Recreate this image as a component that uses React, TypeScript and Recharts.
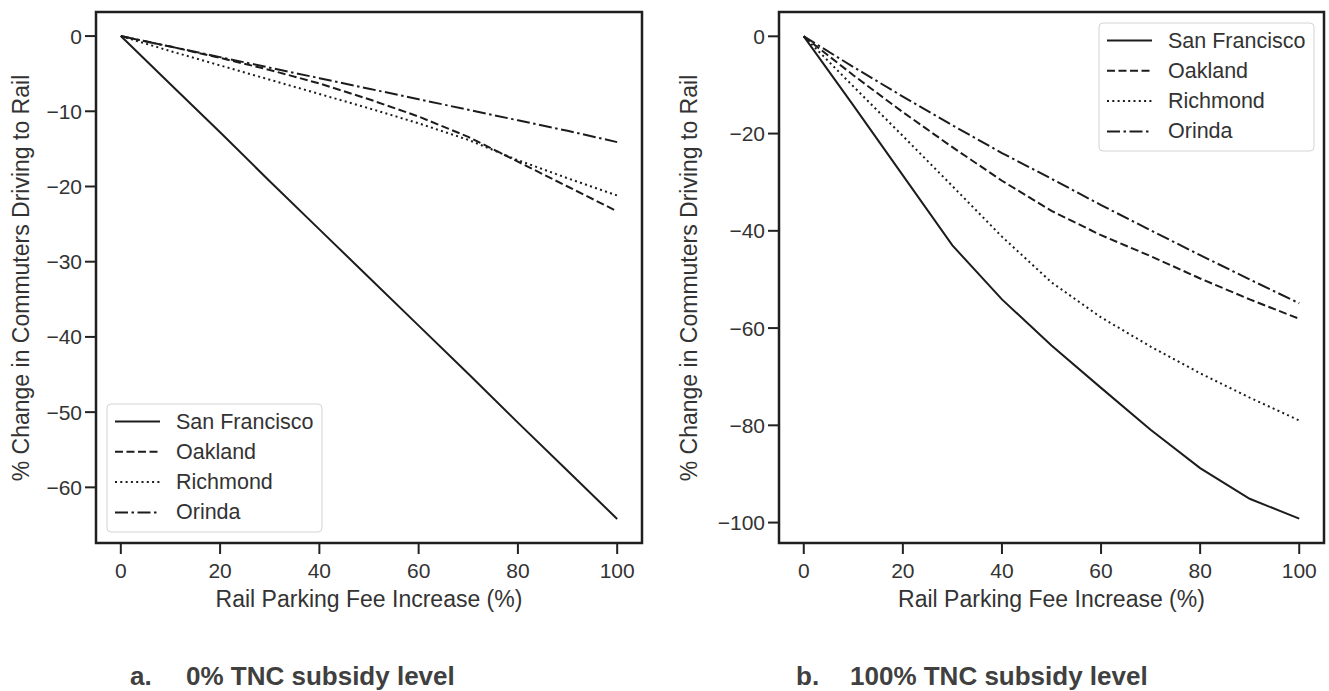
import { LineChart, Line, XAxis, YAxis, ReferenceArea } from 'recharts';

// parking fee increase (%), shared x values
const feeIncrease = [0, 10, 20, 30, 40, 50, 60, 70, 80, 90, 100];

const cityNames = ['San Francisco', 'Oakland', 'Richmond', 'Orinda'];
const cityKeys = ['sf', 'oak', 'ric', 'ori'];
const cityDashes = ['', '8 3.5', '2 3.3', '13 3.5 2.5 3.5'];

// a. 0% TNC subsidy level
const sfNoSubsidy = [0, -6.4, -12.8, -19.3, -25.7, -32.1, -38.5, -44.9, -51.4, -57.8, -64.2];
const oakNoSubsidy = [0, -1.4, -2.9, -4.5, -6.3, -8.4, -10.7, -13.4, -16.7, -20.0, -23.3];
const ricNoSubsidy = [0, -2.0, -3.9, -5.8, -7.7, -9.6, -11.6, -13.8, -16.5, -18.9, -21.2];
const oriNoSubsidy = [0, -1.4, -2.8, -4.2, -5.6, -7.0, -8.4, -9.8, -11.2, -12.6, -14.1];

// b. 100% TNC subsidy level
const sfFullSubsidy = [0, -14.2, -28.6, -43.0, -54.1, -63.6, -72.3, -80.9, -88.8, -95.1, -99.2];
const oakFullSubsidy = [0, -8.0, -15.6, -22.8, -29.7, -35.9, -40.9, -45.2, -49.8, -54.1, -58.1];
const ricFullSubsidy = [0, -10.3, -20.5, -30.8, -41.2, -50.6, -57.8, -63.8, -69.3, -74.3, -79.0];
const oriFullSubsidy = [0, -6.3, -12.4, -18.3, -24.0, -29.3, -34.7, -39.9, -45.0, -50.0, -54.9];

const xTicks = [0, 20, 40, 60, 80, 100];
const yTicksA = [-60, -50, -40, -30, -20, -10, 0];
const yTicksB = [-100, -80, -60, -40, -20, 0];

const xLabel = 'Rail Parking Fee Increase (%)';
const yLabel = '% Change in Commuters Driving to Rail';

const FONT = '"Liberation Sans", Arial, Helvetica, sans-serif';
const LINE = '#1c1c1c';
const TEXT = '#333333';

function buildRows(series: number[][]) {
  return feeIncrease.map((fee, i) => {
    const row: any = { fee };
    cityKeys.forEach((k, j) => (row[k] = series[j][i]));
    return row;
  });
}

const rowsA = buildRows([sfNoSubsidy, oakNoSubsidy, ricNoSubsidy, oriNoSubsidy]);
const rowsB = buildRows([sfFullSubsidy, oakFullSubsidy, ricFullSubsidy, oriFullSubsidy]);

const minus = (v: number) => String(v).replace('-', '\u2212');

interface PanelProps {
  data: any[];
  yDomain: [number, number];
  yTicks: number[];
  width: number;
  marginLeft: number;
  marginRight: number;
}

function Panel({ data, yDomain, yTicks, width, marginLeft, marginRight }: PanelProps) {
  const tickStyle = { fill: TEXT, fontSize: 21, fontFamily: FONT };
  return (
    <LineChart
      width={width}
      height={620}
      data={data}
      margin={{ top: 12, right: marginRight, left: marginLeft, bottom: 7 }}
    >
      <XAxis
        dataKey="fee"
        type="number"
        domain={[-5, 105]}
        allowDataOverflow
        ticks={xTicks}
        axisLine={false}
        tickLine={{ stroke: '#222', strokeWidth: 2 }}
        tickSize={11}
        tickMargin={9}
        tick={tickStyle}
        height={70}
        label={{ value: xLabel, position: 'insideBottom', offset: 6, fill: TEXT, fontSize: 23, fontFamily: FONT }}
      />
      <YAxis
        type="number"
        domain={yDomain}
        allowDataOverflow
        ticks={yTicks}
        axisLine={false}
        tickLine={{ stroke: '#222', strokeWidth: 2 }}
        tickSize={11}
        tickMargin={3}
        tick={tickStyle}
        tickFormatter={minus}
        width={70}
      />
      <ReferenceArea
        x1={-5}
        x2={105}
        y1={yDomain[0]}
        y2={yDomain[1]}
        fill="none"
        fillOpacity={0}
        stroke="#1f1f1f"
        strokeWidth={2.5}
        ifOverflow="visible"
      />
      {cityKeys.map((k, i) => (
        <Line
          key={k}
          dataKey={k}
          type="linear"
          stroke={LINE}
          strokeWidth={2}
          strokeDasharray={cityDashes[i] || undefined}
          dot={false}
          activeDot={false}
          isAnimationActive={false}
        />
      ))}
    </LineChart>
  );
}

function LegendBox({ x, y }: { x: number; y: number }) {
  return (
    <g>
      <rect x={x} y={y} width={215} height={128} rx={4} fill="#fff" fillOpacity={0.9} stroke="#d4d4d4" strokeWidth={1} />
      {cityNames.map((name, i) => {
        const cy = y + 17.5 + i * 30.3;
        return (
          <g key={name}>
            <line
              x1={x + 8}
              x2={x + 53}
              y1={cy}
              y2={cy}
              stroke={LINE}
              strokeWidth={2}
              strokeDasharray={cityDashes[i] || undefined}
            />
            <text x={x + 69} y={cy} dominantBaseline="central" fill={TEXT} fontSize={21.5} fontFamily={FONT}>
              {name}
            </text>
          </g>
        );
      })}
    </g>
  );
}

export default function App() {
  return (
    <div style={{ position: 'absolute', left: 0, top: 0, width: 1329, height: 691, background: '#fff', fontFamily: FONT }}>
      <div style={{ position: 'absolute', left: 0, top: 0 }}>
        <Panel data={rowsA} yDomain={[-67.4, 3.2]} yTicks={yTicksA} width={660} marginLeft={26} marginRight={18} />
      </div>
      <div style={{ position: 'absolute', left: 660, top: 0 }}>
        <Panel data={rowsB} yDomain={[-104.2, 5.0]} yTicks={yTicksB} width={669} marginLeft={49} marginRight={5} />
      </div>
      <svg width={1329} height={691} style={{ position: 'absolute', left: 0, top: 0, pointerEvents: 'none' }}>
        <text transform="translate(21,278) rotate(-90)" textAnchor="middle" dominantBaseline="central" fill={TEXT} fontSize={23} fontFamily={FONT}>
          {yLabel}
        </text>
        <text transform="translate(689,278) rotate(-90)" textAnchor="middle" dominantBaseline="central" fill={TEXT} fontSize={23} fontFamily={FONT}>
          {yLabel}
        </text>
        <LegendBox x={107} y={404} />
        <LegendBox x={1099} y={23} />
        <g fill="#404040" fontWeight="bold" fontSize={26} fontFamily={FONT}>
          <text x={130} y={685}>a.</text>
          <text x={186} y={685}>0% TNC subsidy level</text>
          <text x={796} y={685}>b.</text>
          <text x={850} y={685}>100% TNC subsidy level</text>
        </g>
      </svg>
    </div>
  );
}
